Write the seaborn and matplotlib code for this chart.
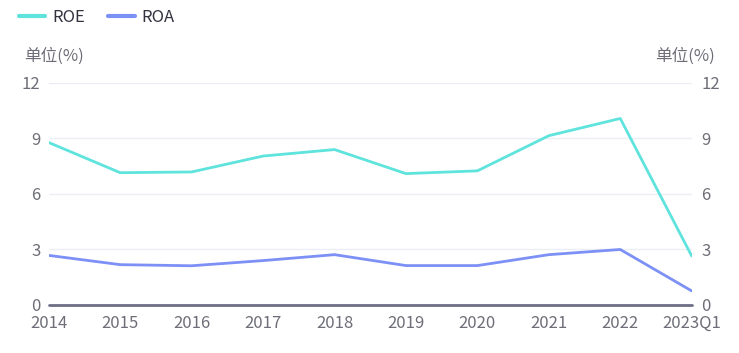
import numpy as np
import pandas as pd
import matplotlib
matplotlib.use('Agg')
import matplotlib.pyplot as plt
import seaborn as sns
from matplotlib.lines import Line2D

years = ['2014', '2015', '2016', '2017', '2018', '2019', '2020', '2021', '2022', '2023Q1']
roe = [8.78, 7.15, 7.19, 8.05, 8.40, 7.10, 7.25, 9.15, 10.08, 2.65]
roa = [2.68, 2.18, 2.12, 2.40, 2.72, 2.13, 2.13, 2.72, 3.00, 0.76]
yticks = [0, 3, 6, 9, 12]

sns.set_style('white')
plt.rcParams['font.family'] = ['Noto Sans CJK SC', 'DejaVu Sans']

c_roe = '#5ee3dd'
c_roa = '#7d90f5'
txt = '#6e6e78'

df = pd.DataFrame({
    'year': years * 2,
    'val': roe + roa,
    'kind': ['ROE'] * len(years) + ['ROA'] * len(years),
})
df['x'] = list(range(len(years))) * 2

fig = plt.figure(figsize=(7.39, 3.53), dpi=100)
ax = fig.add_axes([0.066, 0.136, 0.870, 0.629])
sns.lineplot(data=df, x='x', y='val', hue='kind', palette={'ROE': c_roe, 'ROA': c_roa},
             linewidth=2, ax=ax, legend=False)

ax.set_xlim(0, len(years) - 1)
ax.set_ylim(0, 12)
ax.set_yticks(yticks)
ax.set_yticklabels([str(t) for t in yticks])
ax.set_xticks(range(len(years)))
ax.set_xticklabels(years)
ax.set_xlabel('')
ax.set_ylabel('')
for t in yticks[1:]:
    ax.axhline(t, color='#eceef5', lw=1, zorder=0)
ax.axhline(0, color='#6e6e85', lw=2, zorder=3, clip_on=False)
for s in ax.spines.values():
    s.set_visible(False)
ax.tick_params(axis='both', length=0, labelsize=12, colors=txt)
ax.tick_params(axis='x', pad=7)
ax.tick_params(axis='y', pad=6)

ax2 = ax.twinx()
ax2.set_ylim(0, 12)
ax2.set_yticks(yticks)
ax2.set_yticklabels([str(t) for t in yticks])
for s in ax2.spines.values():
    s.set_visible(False)
ax2.tick_params(axis='y', length=0, labelsize=12, colors=txt, pad=7)

fig.text(0.033, 0.84, '单位(%)', fontsize=12, color=txt, ha='left', va='center')
fig.text(0.968, 0.84, '单位(%)', fontsize=12, color=txt, ha='right', va='center')

handles = [Line2D([0], [0], color=c_roe, lw=3), Line2D([0], [0], color=c_roa, lw=3)]
fig.legend(handles, ['ROE', 'ROA'], loc='center left', bbox_to_anchor=(0.005, 0.95),
           ncol=2, frameon=False, fontsize=12, handlelength=1.6, handletextpad=0.4,
           columnspacing=1.4, labelcolor='#333340')

fig.savefig('out.png', dpi=100)
